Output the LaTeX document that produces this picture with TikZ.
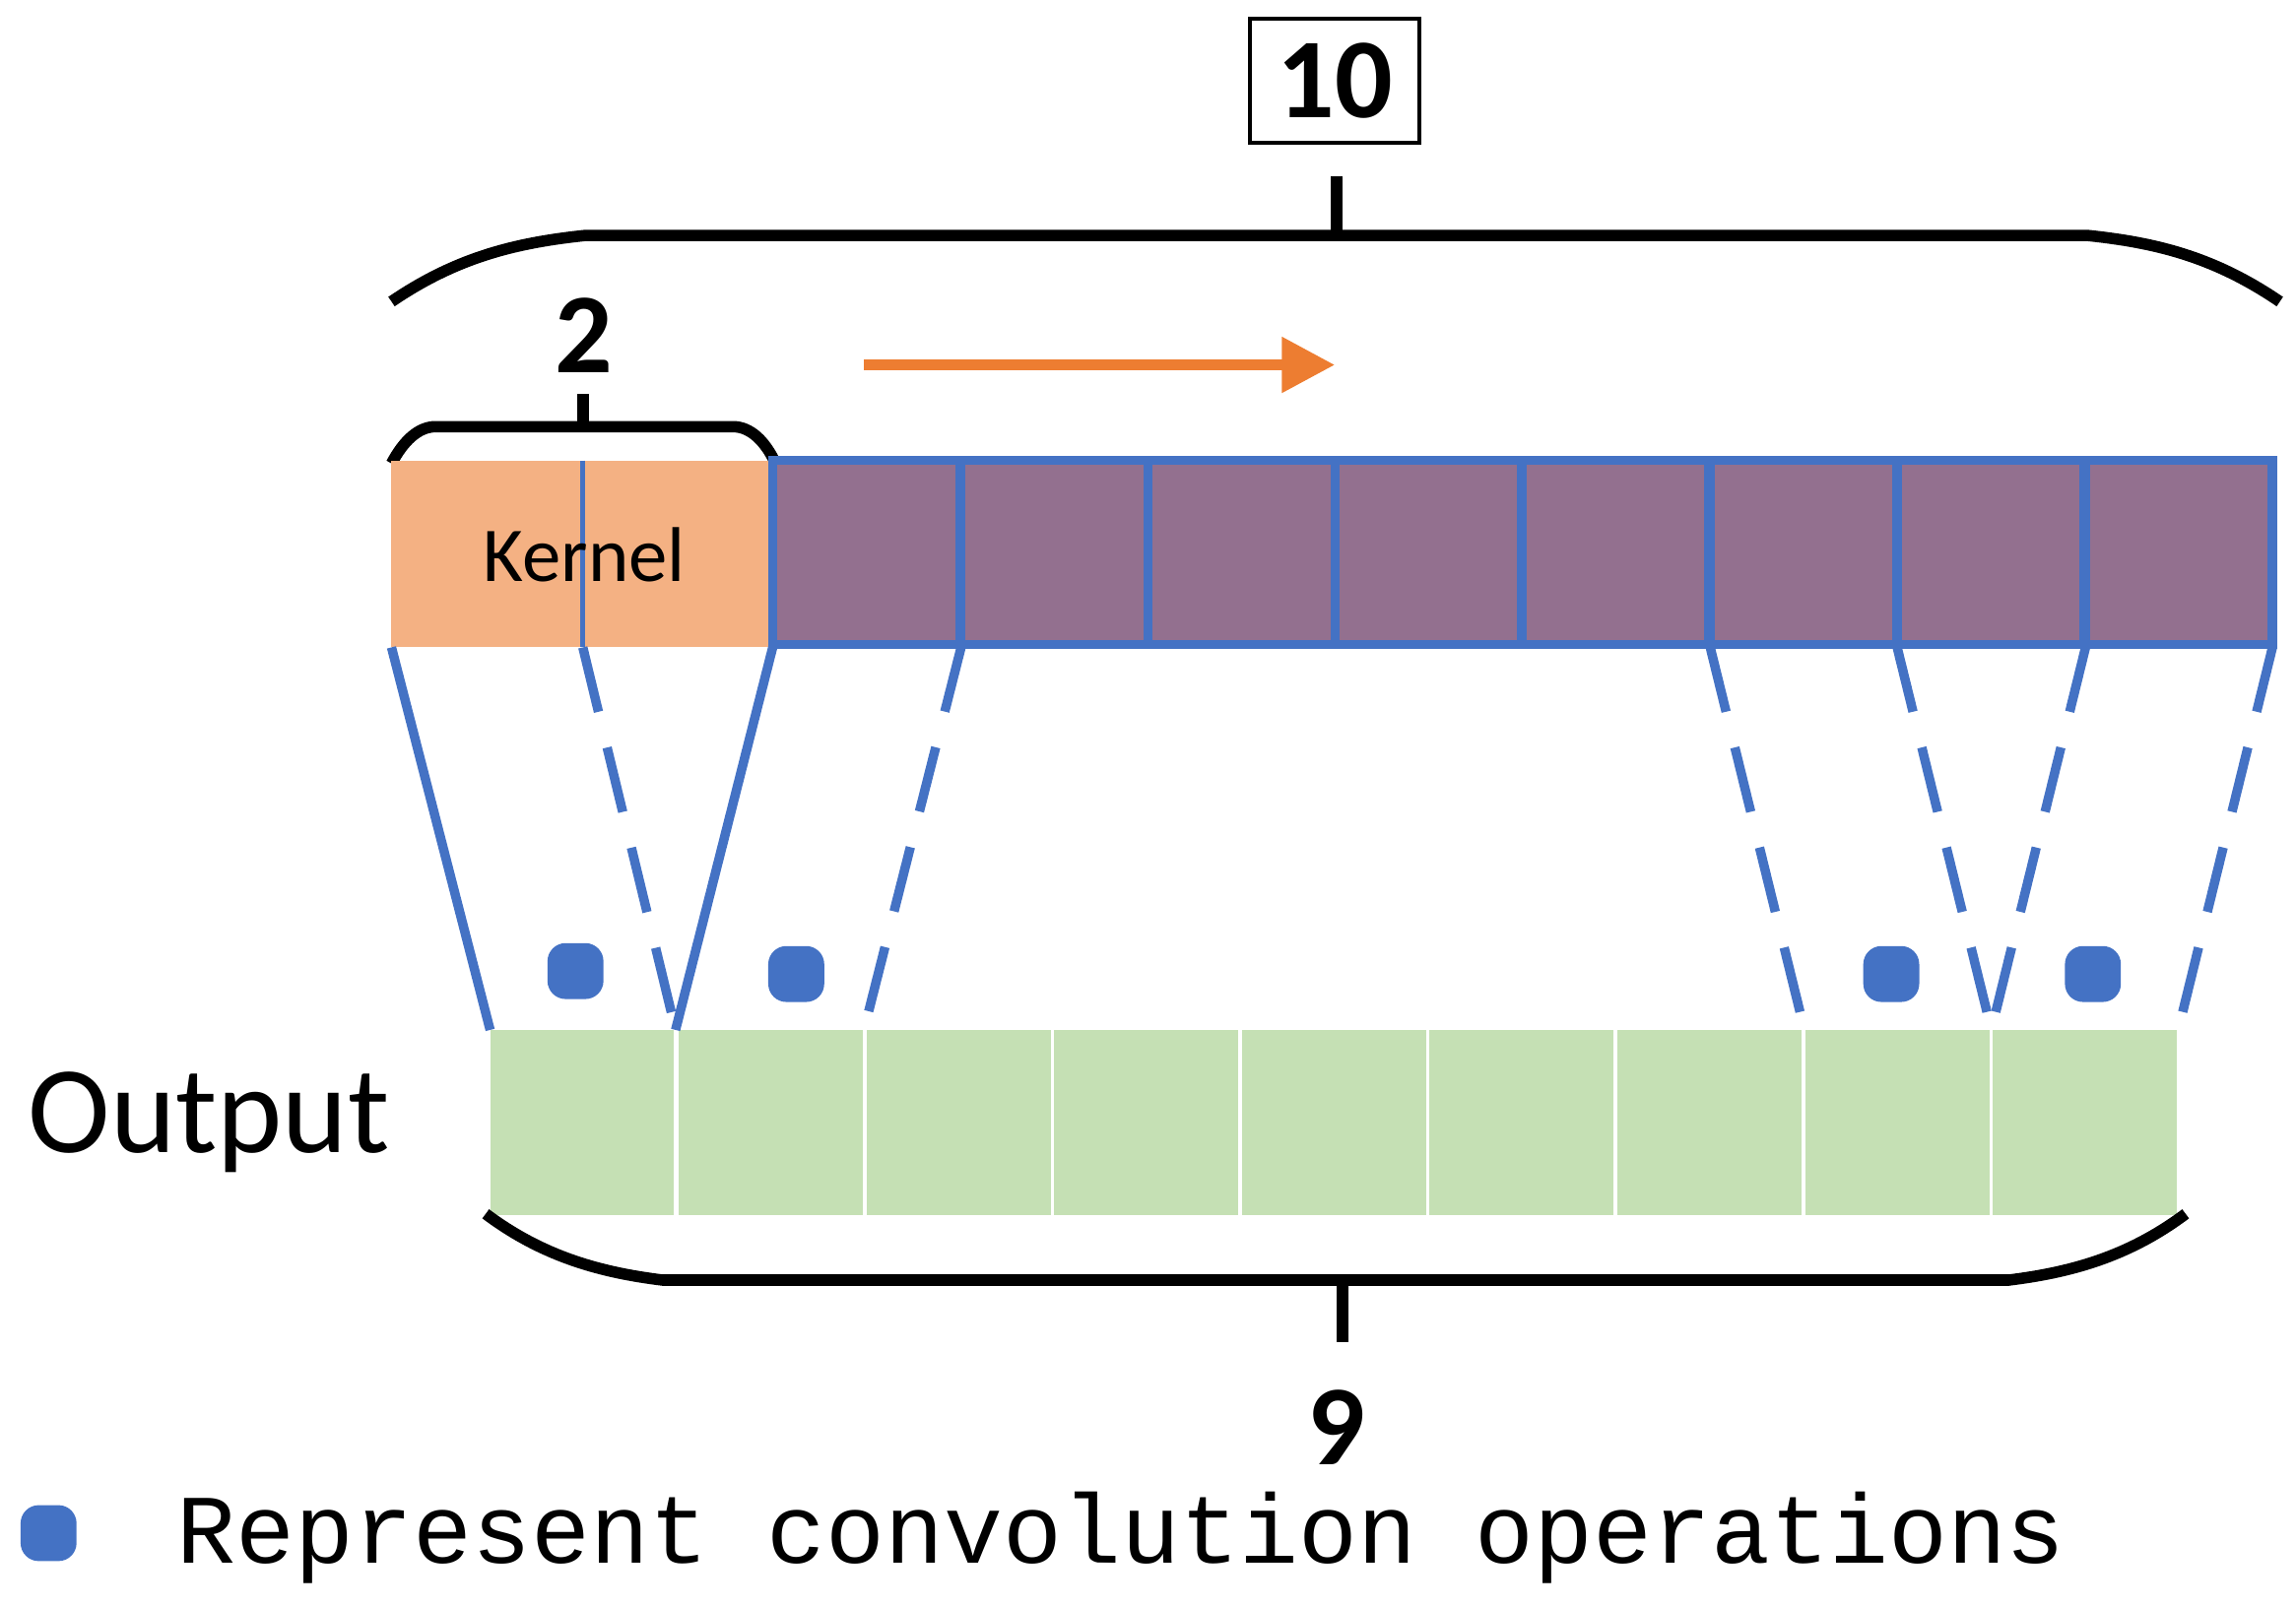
\documentclass[tikz,border=0pt]{standalone}
\usepackage{fontspec}
\setmainfont{Carlito}
\newfontfamily\monof{Liberation Mono}
\usetikzlibrary{arrows.meta}
\definecolor{bl}{HTML}{4472C4}
\definecolor{pu}{HTML}{93708F}
\definecolor{gr}{HTML}{C5E0B4}
\definecolor{orf}{HTML}{F4B183}
\definecolor{ora}{HTML}{ED7D31}
\begin{document}
\begin{tikzpicture}[x=0.01cm,y=-0.01cm,
  brace/.style={line width=2.2pt,black},
  conn/.style={bl,line width=1.8pt},
  dconn/.style={conn,dash pattern=on 0.45cm off 0.25cm},
  dot/.style={fill=bl,rounded corners=3.5pt,minimum size=0.38cm,inner sep=0pt},
  num/.style={font=\fontsize{22}{22}\bfseries\selectfont}]
\useasboundingbox (0,0) rectangle (1560,1092);
% number box
\node[draw,line width=0.8pt,minimum width=1.15cm,minimum height=0.84cm,num] (ten) at (907,55) {10};
% top brace
\draw[brace] (266,205) .. controls (310,175) and (350,165) .. (398,160) -- (1418,160) .. controls (1466,165) and (1505,175) .. (1549,205);
\draw[brace] (908,120) -- (908,160);
\node[num] (two) at (397,228) {2};
\draw[brace] (266,315) .. controls (274,300) and (284,290) .. (296,290) -- (498,290) .. controls (510,290) and (520,300) .. (527,315);
\draw[brace] (396,268) -- (396,290);
% arrow
\coordinate (a1) at (587,248); \coordinate (a2) at (907,248);
\draw[ora,line width=2.2pt,-{Triangle[length=0.36cm,width=0.36cm]}] (a1) -- (a2);
% kernel
\fill[orf] (266,313) rectangle (525,440);
\draw[bl,line width=1pt] (396,313) -- (396,440);
\node[font=\fontsize{15}{15}\selectfont] (kern) at (397,377) {Kernel};
% input cells
\foreach \i/\x in {1/525,2/653,3/780,4/907,5/1034,6/1162,7/1289,8/1417}{
  \draw[bl,fill=pu,line width=1.8pt] (\x,313) rectangle ++(127,125);
}
% output cells
\foreach \x in {333,461,589,716,844,971,1099,1227,1354}{
  \fill[gr] (\x,700) rectangle ++(125,126);
}
\node[font=\fontsize{24}{24}\selectfont] (out) at (142,763) {Output};
% bottom brace
\draw[brace] (330,825) .. controls (370,855) and (410,865) .. (450,870) -- (1365,870) .. controls (1405,865) and (1445,855) .. (1485,825);
\draw[brace] (912,870) -- (912,912);
\node[num] (nine) at (908,970) {9};
% connectors
\draw[conn] (266,440) -- (333,700);
\draw[conn] (525,440) -- (459,700);
\draw[dconn] (396,440) -- (459,700);
\draw[dconn] (653,440) -- (587,700);
\draw[dconn] (1162,440) -- (1226,700);
\draw[dconn] (1289,440) -- (1353,700);
\draw[dconn] (1417,440) -- (1353,700);
\draw[dconn] (1544,440) -- (1480,700);
% dots
\node[dot] (d1) at (391,660) {};
\node[dot] (d2) at (541,662) {};
\node[dot] (d3) at (1285,662) {};
\node[dot] (d4) at (1422,662) {};
\node[dot] (d5) at (33,1042) {};
\node[anchor=west,font=\monof\fontsize{19}{20}\selectfont] (leg) at (108,1045) {Represent convolution operations};
\end{tikzpicture}
\end{document}
